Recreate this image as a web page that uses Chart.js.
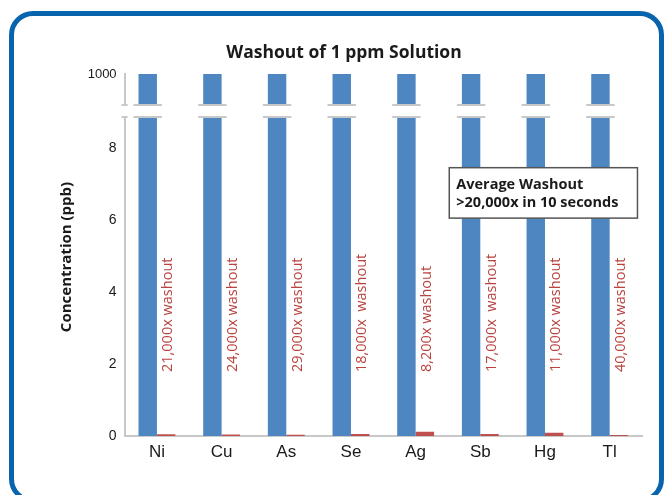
<!DOCTYPE html>
<html><head><meta charset="utf-8">
<script src="https://cdn.jsdelivr.net/npm/chart.js@4.4.1/dist/chart.umd.min.js"></script>
<style>
html,body{margin:0;padding:0;width:665px;height:495px;overflow:hidden;background:#fff;}
#frame{position:absolute;left:9px;top:11px;width:655px;height:492px;box-sizing:border-box;border:5px solid #0864ad;border-radius:24px;}
#wrap{position:absolute;left:0;top:0;width:665px;height:495px;}
</style></head><body>
<div id="frame"></div>
<div id="wrap"><canvas id="c" width="665" height="495"></canvas></div>
<script>
const categories = ['Ni', 'Cu', 'As', 'Se', 'Ag', 'Sb', 'Hg', 'Tl'];
const beforeValues = [1000, 1000, 1000, 1000, 1000, 1000, 1000, 1000];
const afterValues = [0.048, 0.042, 0.034, 0.056, 0.12, 0.059, 0.091, 0.025];
const washoutLabels = ['21,000x washout', '24,000x washout', '29,000x washout', '18,000x  washout',
  '8,200x washout', '17,000x  washout', '11,000x washout', '40,000x washout'];
const yTicks = [0, 2, 4, 6, 8];
const topTicks = [1000];
const titleText = 'Washout of 1 ppm Solution';
const yTitleText = 'Concentration (ppb)';
const noteLines = ['Average Washout', '>20,000x in 10 seconds'];

const BLUE = '#4d86c0', RED = '#c0504d', AXIS = '#c8c8c8';
const Y_W = 78.6;

const breakPlugin = {
  id: 'axisBreak',
  beforeDatasetsDraw(chart) {
    const {ctx, chartArea} = chart;
    ctx.save();
    ctx.beginPath();
    ctx.rect(chartArea.left, chartArea.top, chartArea.right - chartArea.left, chartArea.bottom - chartArea.top);
    ctx.clip();
  },
  afterDatasetsDraw(chart) {
    const {ctx, chartArea, scales} = chart;
    ctx.restore();
    const g = scales.yGap;
    ctx.save();
    ctx.fillStyle = '#fff';
    ctx.fillRect(chartArea.left + 2, g.top, chartArea.right - chartArea.left, g.bottom - g.top);
    ctx.strokeStyle = AXIS;
    ctx.lineWidth = 2;
    chart.getDatasetMeta(0).data.forEach(bar => {
      const half = bar.width / 2 + 5;
      [g.top + 1, g.bottom - 1].forEach(y => {
        ctx.beginPath(); ctx.moveTo(bar.x - half, y); ctx.lineTo(bar.x + half, y); ctx.stroke();
      });
    });
    const ax = scales.y.right;
    [g.top + 1, g.bottom - 1].forEach(y => {
      ctx.beginPath(); ctx.moveTo(ax - 3, y); ctx.lineTo(ax + 3, y); ctx.stroke();
    });
    // washout labels
    ctx.fillStyle = '#b8433f';
    ctx.font = '14.5px "Open Sans"';
    ctx.textAlign = 'left';
    ctx.textBaseline = 'middle';
    chart.getDatasetMeta(1).data.forEach((bar, i) => {
      ctx.save();
      ctx.translate(bar.x + 2, bar.base - 64);
      ctx.rotate(-Math.PI / 2);
      ctx.fillText(washoutLabels[i], 0, 0);
      ctx.restore();
    });
    // y title
    ctx.fillStyle = '#1a1a1a';
    ctx.font = 'bold 15px "Open Sans"';
    ctx.textAlign = 'center';
    ctx.save();
    ctx.translate(67, (chartArea.top + chartArea.bottom) / 2 + 2);
    ctx.rotate(-Math.PI / 2);
    ctx.fillText(yTitleText, 0, 0);
    ctx.restore();
    ctx.restore();
  },
  afterDraw(chart) {
    const {ctx, scales} = chart;
    const x1 = scales.x.getPixelForValue(4.52), x2 = scales.x.getPixelForValue(7.43);
    const y1 = scales.y.getPixelForValue(7.45), y2 = scales.y.getPixelForValue(6.05);
    ctx.save();
    ctx.fillStyle = '#fff';
    ctx.fillRect(x1, y1, x2 - x1, y2 - y1);
    ctx.strokeStyle = '#555';
    ctx.lineWidth = 1.5;
    ctx.strokeRect(x1, y1, x2 - x1, y2 - y1);
    ctx.fillStyle = '#1a1a1a';
    ctx.font = 'bold 14.5px "Open Sans"';
    ctx.textAlign = 'left';
    ctx.textBaseline = 'middle';
    ctx.fillText(noteLines[0], x1 + 7, y1 + 17);
    ctx.fillText(noteLines[1], x1 + 7, y1 + 35);
    ctx.restore();
  }
};

new Chart(document.getElementById('c'), {
  type: 'bar',
  data: {
    labels: categories,
    datasets: [
      { label: 'Before', data: beforeValues, backgroundColor: BLUE, yAxisID: 'y', clip: false,
        categoryPercentage: 0.57, barPercentage: 1.0 },
      { label: 'After', data: afterValues, backgroundColor: RED, yAxisID: 'y',
        categoryPercentage: 0.57, barPercentage: 1.0 }
    ]
  },
  options: {
    responsive: false,
    animation: false,
    layout: { padding: { left: 46, right: 23, top: 0, bottom: 0 } },
    plugins: {
      legend: { display: false },
      tooltip: { enabled: false },
      title: {
        display: true, text: titleText, color: '#1a1a1a',
        font: { family: '"Open Sans"', size: 17.5, weight: 'bold', lineHeight: 1.2 },
        padding: { top: 43, bottom: 10 }
      }
    },
    scales: {
      x: {
        type: 'category',
        grid: { display: false, drawTicks: false },
        border: { color: AXIS, width: 2 },
        ticks: { font: { family: '"Liberation Sans"', size: 17 }, color: '#1a1a1a', padding: 6 },
        afterFit(s) { s.height = 59; }
      },
      y: {
        type: 'linear', stack: 'v', stackWeight: 318, weight: 1,
        min: 0, max: 8.83,
        afterBuildTicks(s) { s.ticks = yTicks.map(v => ({ value: v })); },
        grid: { display: false, drawTicks: false },
        border: { color: AXIS, width: 2 },
        ticks: { font: { family: '"Liberation Sans"', size: 14 }, color: '#1a1a1a', padding: 8,
          callback: v => String(v) },
        afterFit(s) { s.width = Y_W; }
      },
      yGap: {
        type: 'linear', stack: 'v', stackWeight: 14, weight: 2,
        min: 0, max: 1,
        grid: { display: false, drawTicks: false },
        border: { display: false },
        ticks: { display: false },
        afterFit(s) { s.width = Y_W; }
      },
      yTop: {
        type: 'linear', stack: 'v', stackWeight: 30, weight: 3,
        min: 999, max: 1000,
        afterBuildTicks(s) { s.ticks = topTicks.map(v => ({ value: v })); },
        grid: { display: false, drawTicks: false },
        border: { color: AXIS, width: 2 },
        ticks: { font: { family: '"Liberation Sans"', size: 13 }, color: '#1a1a1a', padding: 8,
          callback: v => String(v) },
        afterFit(s) { s.width = Y_W; }
      }
    }
  },
  plugins: [breakPlugin]
});
</script>
</body></html>
